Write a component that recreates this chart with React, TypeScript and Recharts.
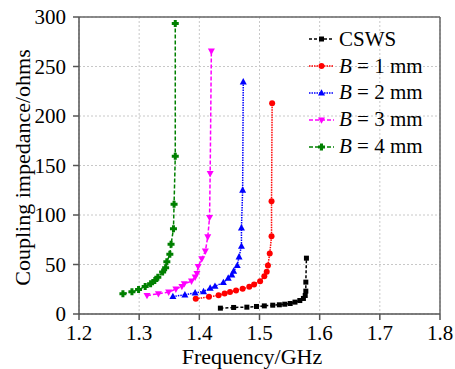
import React from 'react';
import { LineChart, Line, XAxis, YAxis, CartesianGrid, ReferenceLine, Legend, Label } from 'recharts';

const xTicks = [1.2, 1.3, 1.4, 1.5, 1.6, 1.7, 1.8];
const yTicks = [0, 50, 100, 150, 200, 250, 300];

const cswsFreq = [1.435, 1.457, 1.479, 1.495, 1.508, 1.522, 1.533, 1.542, 1.551, 1.559, 1.567, 1.573, 1.576, 1.577, 1.577, 1.578];
const cswsImp = [5.9, 6.6, 6.9, 7.6, 8.2, 8.9, 9.3, 9.9, 10.6, 12.0, 13.6, 15.7, 18.7, 23.1, 32.2, 56.4];

const b1Freq = [1.394, 1.416, 1.432, 1.442, 1.451, 1.461, 1.472, 1.483, 1.491, 1.501, 1.508, 1.512, 1.514, 1.517, 1.520, 1.520, 1.521];
const b1Imp = [15.3, 17.3, 19.0, 20.7, 22.1, 23.7, 25.4, 27.4, 29.8, 33.2, 38.2, 42.6, 49.0, 61.1, 78.6, 114, 213];

const b2Freq = [1.356, 1.376, 1.393, 1.407, 1.418, 1.426, 1.440, 1.448, 1.454, 1.457, 1.463, 1.466, 1.470, 1.470, 1.472, 1.473];
const b2Imp = [17.7, 19.4, 21.4, 22.7, 26.1, 28.1, 31.8, 36.2, 39.6, 43.3, 49.0, 57.7, 68.5, 87.0, 125.1, 234.5];

const b3Freq = [1.313, 1.332, 1.349, 1.361, 1.371, 1.375, 1.387, 1.393, 1.396, 1.398, 1.404, 1.410, 1.414, 1.417, 1.418, 1.420];
const b3Imp = [18.7, 20.4, 22.1, 25.1, 27.8, 30.5, 33.2, 37.2, 40.9, 48.0, 55.7, 63.5, 77.9, 97.5, 141.9, 265.5];

const b4Freq = [1.273, 1.288, 1.299, 1.310, 1.319, 1.326, 1.331, 1.339, 1.344, 1.346, 1.351, 1.353, 1.357, 1.358, 1.360, 1.360];
const b4Imp = [20.4, 22.4, 24.7, 27.8, 30.5, 33.8, 37.2, 42.3, 46.6, 52.7, 60.4, 70.5, 86.0, 110.9, 159.4, 293.4];

const toData = (xs: number[], ys: number[]) => xs.map((x, i) => ({ x, y: ys[i] }));

type Shape = 'square' | 'circle' | 'up' | 'down' | 'plus';

const series: { name: string; label: React.ReactNode; color: string; dash: string; shape: Shape; data: { x: number; y: number }[] }[] = [
  { name: 'CSWS', label: 'CSWS', color: '#000000', dash: '3 2', shape: 'square', data: toData(cswsFreq, cswsImp) },
  { name: 'B1', label: <><i>B</i> = 1 mm</>, color: '#ff0000', dash: '1.5 1', shape: 'circle', data: toData(b1Freq, b1Imp) },
  { name: 'B2', label: <><i>B</i> = 2 mm</>, color: '#0000ff', dash: '1.5 1', shape: 'up', data: toData(b2Freq, b2Imp) },
  { name: 'B3', label: <><i>B</i> = 3 mm</>, color: '#ff00ff', dash: '4 2', shape: 'down', data: toData(b3Freq, b3Imp) },
  { name: 'B4', label: <><i>B</i> = 4 mm</>, color: '#008000', dash: '4 2', shape: 'plus', data: toData(b4Freq, b4Imp) },
];

const Marker = ({ cx, cy, shape, color }: { cx: number; cy: number; shape: Shape; color: string }) => {
  if (cx == null || cy == null || isNaN(cx) || isNaN(cy)) return <g />;
  switch (shape) {
    case 'square':
      return <rect x={cx - 2.5} y={cy - 2.5} width={5} height={5} fill={color} />;
    case 'circle':
      return <circle cx={cx} cy={cy} r={3} fill={color} />;
    case 'up':
      return <path d={`M${cx},${cy - 3.8} L${cx + 3.5},${cy + 2.6} L${cx - 3.5},${cy + 2.6} Z`} fill={color} />;
    case 'down':
      return <path d={`M${cx},${cy + 3.8} L${cx + 3.5},${cy - 2.6} L${cx - 3.5},${cy - 2.6} Z`} fill={color} />;
    case 'plus':
    default:
      return (
        <path
          d={`M${cx - 1.5},${cy - 3.5} h3 v2 h2 v3 h-2 v2 h-3 v-2 h-2 v-3 h2 Z`}
          fill={color}
        />
      );
  }
};

const SERIF = 'Liberation Serif';

const XTick = (props: any) => {
  const { x, payload } = props;
  return (
    <text x={x} y={340} textAnchor="middle" fontFamily={SERIF} fontSize={21} fill="#000">
      {Number(payload.value).toFixed(1)}
    </text>
  );
};

const YTick = (props: any) => {
  const { y, payload } = props;
  return (
    <text x={66} y={y + 7} textAnchor="end" fontFamily={SERIF} fontSize={21} fill="#000">
      {payload.value}
    </text>
  );
};

const XTitle = () => (
  <text x={252} y={364.3} textAnchor="middle" fontFamily={SERIF} fontSize={22} fill="#000">
    Frequency/GHz
  </text>
);

const YTitle = (props: any) => {
  const { viewBox } = props;
  const cx = 29.5;
  const cy = viewBox.y + viewBox.height / 2 + 2;
  return (
    <text x={cx} y={cy} transform={`rotate(-90 ${cx} ${cy})`} textAnchor="middle" fontFamily={SERIF} fontSize={22} fill="#000">
      Coupling impedance/ohms
    </text>
  );
};

const LegendContent = () => (
  <div style={{ fontFamily: SERIF, fontSize: 21, color: '#000' }}>
    {series.map((s) => (
      <div key={s.name} style={{ display: 'flex', alignItems: 'center', height: 26.8 }}>
        <svg width={28} height={12} style={{ marginRight: 3 }}>
          <line x1={1} y1={6} x2={26} y2={6} stroke={s.color} strokeWidth={1.5} strokeDasharray={s.dash} />
          <Marker cx={13.5} cy={6} shape={s.shape} color={s.color} />
        </svg>
        <span style={{ whiteSpace: 'nowrap', lineHeight: '21px' }}>{s.label}</span>
      </div>
    ))}
  </div>
);

export default function App() {
  return (
    <div style={{ position: 'absolute', left: 0, top: 0, width: 455, height: 369, background: '#fff' }}>
      <LineChart width={455} height={369} margin={{ top: 17, right: 15, bottom: 0, left: 0 }}>
        <CartesianGrid stroke="#c8c8c8" strokeDasharray="2 2" />
        <XAxis
          type="number"
          dataKey="x"
          domain={[1.2, 1.8]}
          ticks={xTicks}
          allowDataOverflow
          height={55}
          stroke="#555"
          strokeWidth={1.5}
          tickSize={6}
          tick={<XTick />}
        >
          <Label content={<XTitle />} />
        </XAxis>
        <YAxis
          type="number"
          domain={[0, 300]}
          ticks={yTicks}
          allowDataOverflow
          width={79}
          stroke="#555"
          strokeWidth={1.5}
          tickSize={6}
          tick={<YTick />}
        >
          <Label content={<YTitle />} />
        </YAxis>
        <ReferenceLine y={300} stroke="#666" strokeWidth={1.5} />
        <ReferenceLine x={1.8} stroke="#666" strokeWidth={1.5} />
        {series.map((s) => (
          <Line
            key={s.name}
            data={s.data}
            dataKey="y"
            name={s.name}
            type="linear"
            stroke={s.color}
            strokeWidth={1.5}
            strokeDasharray={s.dash}
            isAnimationActive={false}
            dot={(p: any) => <Marker key={`${s.name}-${p.index}`} cx={p.cx} cy={p.cy} shape={s.shape} color={s.color} />}
            activeDot={false}
          />
        ))}
        <Legend
          layout="vertical"
          align="center"
          verticalAlign="middle"
          content={<LegendContent />}
          wrapperStyle={{ top: 26, left: 308, width: 147 }}
        />
      </LineChart>
    </div>
  );
}
